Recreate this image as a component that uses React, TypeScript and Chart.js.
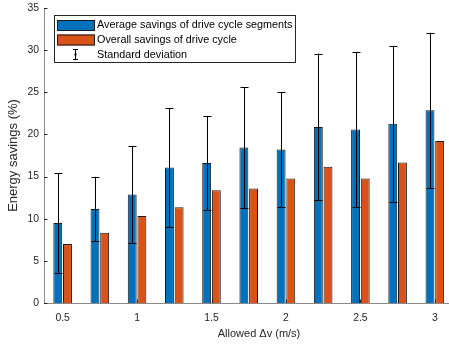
import React, { useEffect, useRef } from "react";
import { Chart, registerables } from "chart.js";

Chart.register(...registerables);

// ---- data ----
const deltaV = [0.5, 0.75, 1, 1.25, 1.5, 1.75, 2, 2.25, 2.5, 2.75, 3];
const avgSegmentSavings = [9.48, 11.14, 12.87, 16.07, 16.62, 18.44, 18.2, 20.89, 20.57, 21.28, 22.87];
const overallSavings = [6.99, 8.33, 10.31, 11.37, 13.39, 13.58, 14.77, 16.18, 14.77, 16.66, 19.23];
const stdDeviation = [5.9, 3.83, 5.77, 7.05, 5.54, 7.19, 6.82, 8.7, 9.22, 9.24, 9.2];
const xTickValues = [0.5, 1, 1.5, 2, 2.5, 3];
const yTickValues = [0, 5, 10, 15, 20, 25, 30, 35];
const seriesLabels = ["Average savings of drive cycle segments", "Overall savings of drive cycle"];
const errorLabel = "Standard deviation";
const xTitle = "Allowed \u0394v (m/s)";
const yTitle = "Energy savings (%)";

const BLUE = "#0072BD";
const ORANGE = "#D95319";
const AXIS = "#8a8a8a";
const TEXT = "#262626";
const FONT = "'Liberation Sans', Arial, sans-serif";

const decorPlugin = {
  id: "decor",
  afterDatasetsDraw(chart: any) {
    const ctx = chart.ctx;
    const xs = chart.scales.x;
    const ys = chart.scales.y;
    const area = chart.chartArea;
    ctx.save();
    // error bars on first series
    const meta = chart.getDatasetMeta(0);
    ctx.strokeStyle = "#000";
    ctx.lineWidth = 1;
    meta.data.forEach((bar: any, i: number) => {
      const x = Math.round(bar.x) + 0.5;
      const top = ys.getPixelForValue(avgSegmentSavings[i] + stdDeviation[i]);
      const bot = ys.getPixelForValue(avgSegmentSavings[i] - stdDeviation[i]);
      const hw = 4;
      ctx.beginPath();
      ctx.moveTo(x, top);
      ctx.lineTo(x, bot);
      ctx.moveTo(x - hw, Math.round(top) + 0.5);
      ctx.lineTo(x + hw, Math.round(top) + 0.5);
      ctx.moveTo(x - hw, Math.round(bot) + 0.5);
      ctx.lineTo(x + hw, Math.round(bot) + 0.5);
      ctx.stroke();
    });
    // inward tick marks
    ctx.strokeStyle = TEXT;
    ctx.beginPath();
    yTickValues.forEach((v) => {
      const y = Math.round(ys.getPixelForValue(v)) + 0.5;
      ctx.moveTo(area.left, y);
      ctx.lineTo(area.left + 3.5, y);
    });
    xTickValues.forEach((v) => {
      const x = Math.round(xs.getPixelForValue(v)) + 0.5;
      ctx.moveTo(x, area.bottom);
      ctx.lineTo(x, area.bottom - 3.5);
    });
    ctx.stroke();
    ctx.restore();
  },
  afterDraw(chart: any) {
    const ctx = chart.ctx;
    ctx.save();
    // legend box
    const bx = 54.5, by = 15.5, bw = 241, bh = 47;
    ctx.fillStyle = "#fff";
    ctx.fillRect(bx, by, bw, bh);
    ctx.strokeStyle = TEXT;
    ctx.lineWidth = 1;
    ctx.strokeRect(bx, by, bw, bh);
    const colors = [BLUE, ORANGE];
    const rowsY = [25.5, 40, 54.8];
    colors.forEach((c, i) => {
      const top = i === 0 ? 20 : 34.5;
      ctx.fillStyle = c;
      ctx.fillRect(57, top, 38, 11);
      ctx.strokeStyle = "#1a1a1a";
      ctx.strokeRect(57.5, top + 0.5, 37, 10);
    });
    // error bar icon
    ctx.strokeStyle = "#000";
    ctx.beginPath();
    ctx.moveTo(75.5, 49.5);
    ctx.lineTo(75.5, 59.5);
    ctx.moveTo(73, 49.5);
    ctx.lineTo(78, 49.5);
    ctx.moveTo(73, 59.5);
    ctx.lineTo(78, 59.5);
    ctx.stroke();
    ctx.fillStyle = "#000";
    ctx.fillRect(74.5, 53.5, 2, 2);
    // texts
    ctx.fillStyle = "#000";
    ctx.font = "10.8px " + FONT;
    ctx.textBaseline = "middle";
    ctx.textAlign = "left";
    ctx.fillText(seriesLabels[0], 97, rowsY[0]);
    ctx.fillText(seriesLabels[1], 97, rowsY[1]);
    ctx.fillText(errorLabel, 97, rowsY[2]);
    ctx.restore();
  },
};

export default function App() {
  const ref = useRef<HTMLCanvasElement | null>(null);
  useEffect(() => {
    if (!ref.current) return;
    const chart = new Chart(ref.current, {
      type: "bar",
      data: {
        datasets: [
          {
            label: seriesLabels[0],
            data: deltaV.map((x, i) => ({ x, y: avgSegmentSavings[i] })),
            backgroundColor: BLUE,
            borderColor: "#1a1a1a",
            borderWidth: 1,
            categoryPercentage: 0.52,
            barPercentage: 0.92,
          },
          {
            label: seriesLabels[1],
            data: deltaV.map((x, i) => ({ x, y: overallSavings[i] })),
            backgroundColor: ORANGE,
            borderColor: "#1a1a1a",
            borderWidth: 1,
            categoryPercentage: 0.52,
            barPercentage: 0.92,
          },
        ],
      } as any,
      options: {
        responsive: false,
        animation: false,
        devicePixelRatio: 1,
        layout: { padding: { top: 8, right: 0, left: 0, bottom: 0 } },
        plugins: { legend: { display: false }, tooltip: { enabled: false } },
        scales: {
          x: {
            type: "linear",
            min: 0.375,
            max: 3.263,
            offset: false,
            afterBuildTicks: (s: any) => {
              s.ticks = xTickValues.map((v) => ({ value: v }));
            },
            afterFit: (s: any) => {
              s.height = 45;
              s.paddingLeft = 0;
              s.paddingRight = 0;
            },
            grid: { display: false, drawTicks: false },
            border: { display: true, color: AXIS, width: 1 },
            ticks: {
              padding: 9,
              color: TEXT,
              font: { family: FONT, size: 10.4 },
              maxRotation: 0,
              autoSkip: false,
              callback: (v: any) => String(v),
            },
            title: {
              display: true,
              text: xTitle,
              color: TEXT,
              font: { family: FONT, size: 11 },
              padding: { top: 0, bottom: 7 },
            },
          },
          y: {
            min: 0,
            max: 35,
            afterBuildTicks: (s: any) => {
              s.ticks = yTickValues.map((v) => ({ value: v }));
            },
            afterFit: (s: any) => {
              s.width = 44;
              s.paddingTop = 0;
              s.paddingBottom = 0;
            },
            grid: { display: false, drawTicks: false },
            border: { display: true, color: AXIS, width: 1 },
            ticks: {
              padding: 5,
              color: TEXT,
              font: { family: FONT, size: 10.4 },
              callback: (v: any) => String(v),
            },
            title: {
              display: true,
              text: yTitle,
              color: TEXT,
              font: { family: FONT, size: 13 },
              padding: { top: 5.3, bottom: 0 },
            },
          },
        },
      } as any,
      plugins: [decorPlugin],
    });
    return () => chart.destroy();
  }, []);
  return (
    <div
      style={{
        position: "fixed",
        left: 0,
        top: 0,
        width: 449,
        height: 348,
        overflow: "hidden",
        background: "#fff",
      }}
    >
      <canvas ref={ref} width={474} height={348} style={{ display: "block" }} />
    </div>
  );
}
